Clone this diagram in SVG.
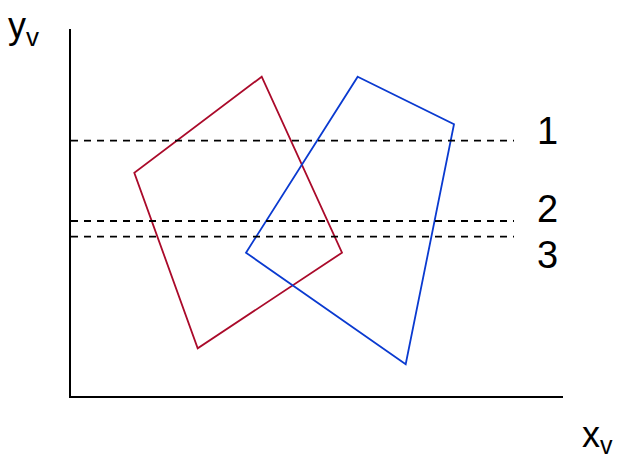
<svg xmlns="http://www.w3.org/2000/svg" width="621" height="459" viewBox="0 0 621 459">
<style>
.axis{stroke:#000;stroke-width:2;fill:none}
.scan{stroke:#000;stroke-width:1.8;stroke-dasharray:7 6;fill:none}
.lbl{font-family:"Liberation Sans",Arial,sans-serif;fill:#000}
</style>
<rect width="621" height="459" fill="#fff"/>
<g id="axes">
<line class="axis" x1="70" y1="29" x2="70" y2="397"/>
<line class="axis" x1="69" y1="397" x2="563" y2="397"/>
</g>
<g id="red-polygon">
<polygon points="261.7,76.7 134.3,172.7 197.7,348.3 342,252.7" fill="none" stroke="#aa0a2a" stroke-width="1.8"/>
</g>
<g id="blue-polygon">
<polygon points="357.7,76.7 454,124.3 405.7,364.3 246,252.7" fill="none" stroke="#0a3ad0" stroke-width="1.8"/>
</g>
<g id="scanlines">
<line class="scan" x1="71" y1="140.7" x2="514" y2="140.7"/>
<line class="scan" x1="71" y1="221" x2="514" y2="221"/>
<line class="scan" x1="71" y1="236.7" x2="514" y2="236.7"/>
</g>
<g id="labels">
<text class="lbl" x="8" y="38" font-size="36">y<tspan font-size="26" dy="8">v</tspan></text>
<text class="lbl" x="582" y="447" font-size="36">x<tspan font-size="25" dy="7">v</tspan></text>
<text class="lbl" x="537" y="144" font-size="38">1</text>
<text class="lbl" x="537" y="222" font-size="38">2</text>
<text class="lbl" x="537" y="268" font-size="38">3</text>
</g>
</svg>
